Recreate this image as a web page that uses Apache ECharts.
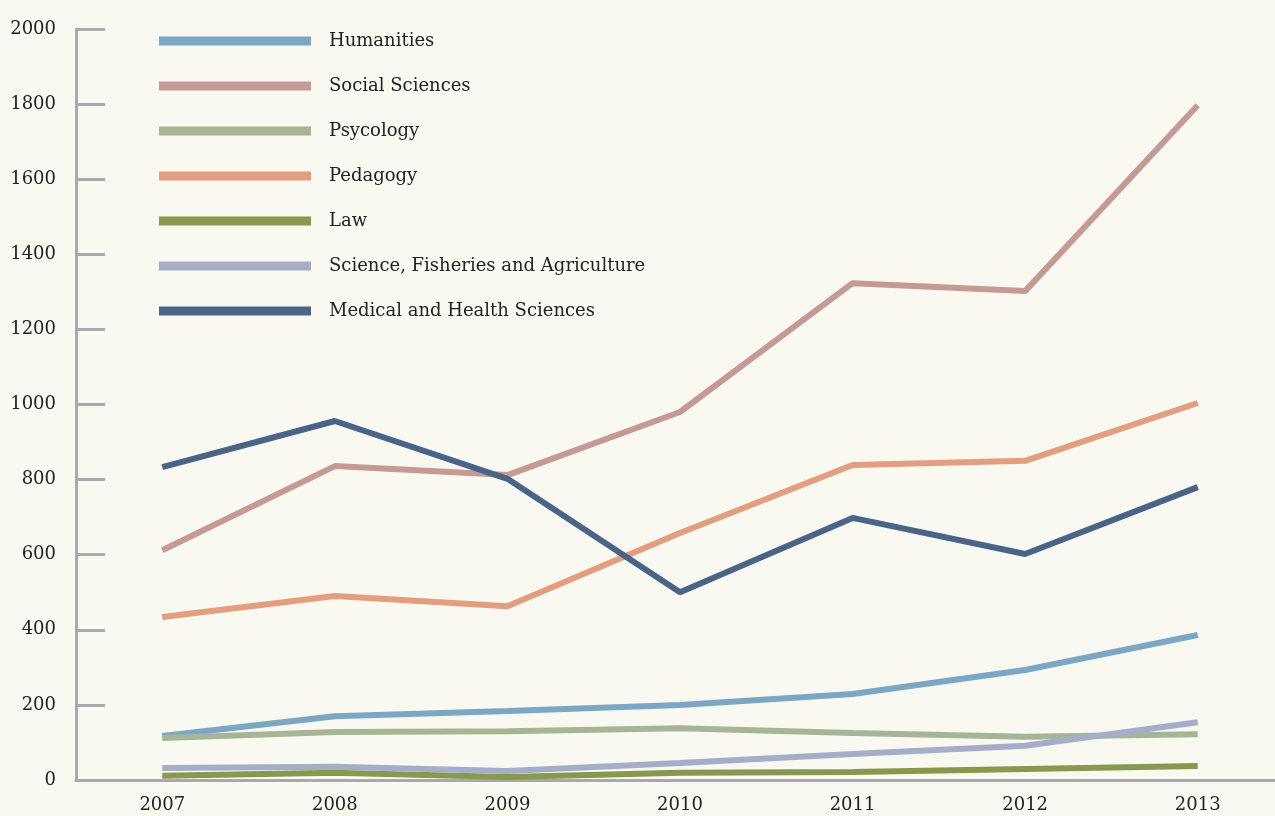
<!DOCTYPE html>
<html>
<head>
<meta charset="utf-8">
<script src="https://cdn.jsdelivr.net/npm/echarts@6/dist/echarts.min.js"></script>
<style>
  html, body { margin: 0; padding: 0; background: #f9f9f1; }
  #main { width: 1275px; height: 816px; }
</style>
</head>
<body>
<div id="main"></div>
<script>
var years = ['2007', '2008', '2009', '2010', '2011', '2012', '2013'];

var humanities = [117, 170, 184, 200, 229, 293, 386];
var socialSciences = [612, 836, 812, 980, 1323, 1302, 1797];
var psycology = [112, 128, 130, 138, 125, 115, 122];
var pedagogy = [434, 490, 463, 658, 839, 850, 1004];
var law = [11, 19, 8, 19, 21, 29, 37];
var science = [32, 35, 24, 45, 69, 91, 154];
var medical = [833, 956, 802, 500, 698, 602, 780];

var seriesNames = ['Humanities', 'Social Sciences', 'Psycology', 'Pedagogy', 'Law',
    'Science, Fisheries and Agriculture', 'Medical and Health Sciences'];
var seriesData = [humanities, socialSciences, psycology, pedagogy, law, science, medical];
var colors = ['#7ba7c4', '#c59a94', '#a6b595', '#e29e7f', '#88984f', '#a5aec8', '#4a6486'];

var font = 'DejaVu Serif';
var chart = echarts.init(document.getElementById('main'));

var option = {
    backgroundColor: '#f9f9f1',
    color: colors,
    animation: false,
    textStyle: { fontFamily: font },
    grid: { left: 76, width: 1208, top: 29, bottom: 36, containLabel: false, outerBoundsMode: 'none' },
    legend: {
        orient: 'vertical',
        left: 159,
        top: 31,
        padding: 0,
        icon: 'rect',
        itemWidth: 152,
        itemHeight: 9,
        itemGap: 25,
        data: seriesNames,
        textStyle: {
            fontFamily: font,
            fontSize: 18,
            color: '#222',
            lineHeight: 20,
            padding: [0, 0, 0, 13]
        }
    },
    xAxis: {
        type: 'category',
        data: years,
        boundaryGap: true,
        axisLine: { lineStyle: { color: '#a9a9ad', width: 3 } },
        axisTick: { inside: true, length: 17, alignWithLabel: true, lineStyle: { color: '#a9a9ad', width: 2 } },
        axisLabel: { color: '#222', fontSize: 18, margin: 16, fontFamily: font },
        splitLine: { show: false }
    },
    yAxis: {
        type: 'value',
        min: 0,
        max: 2000,
        interval: 200,
        axisLine: { show: true, lineStyle: { color: '#a9a9ad', width: 3 } },
        axisTick: { show: true, inside: true, length: 29, lineStyle: { color: '#a9a9ad', width: 3 } },
        axisLabel: {
            color: '#222', fontSize: 18, margin: 20, fontFamily: font,
            formatter: function (v) { return String(v); }
        },
        splitLine: { show: false }
    },
    series: seriesNames.map(function (name, i) {
        return {
            name: name,
            type: 'line',
            data: seriesData[i],
            symbol: 'none',
            lineStyle: { width: 6, color: colors[i], cap: 'butt' },
            itemStyle: { color: colors[i] }
        };
    })
};

chart.setOption(option);
</script>
</body>
</html>
